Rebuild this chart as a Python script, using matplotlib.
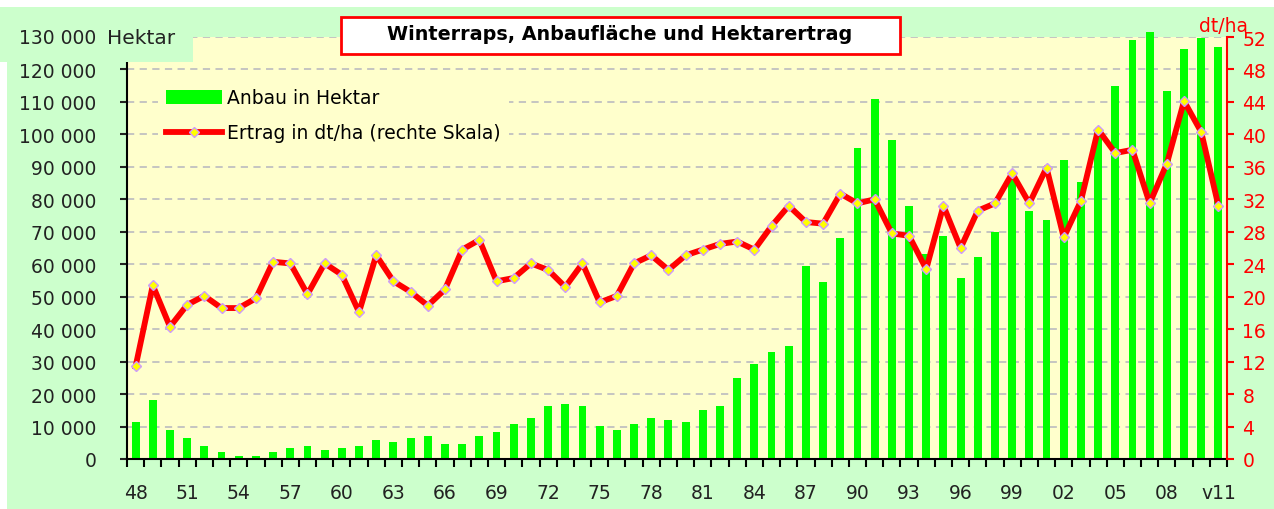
import numpy as np
import matplotlib.pyplot as plt
from matplotlib.patches import Rectangle
from matplotlib.ticker import FuncFormatter

plt.rcParams['font.family'] = ['DejaVu Sans']
plt.rcParams['font.size'] = 13.5

# years 1948..2011
years = list(range(1948, 2012))

# Anbaufläche in Hektar
anbau = [11400, 18300, 9000, 6600, 4100, 2250, 1000, 1000, 2250, 3500,
         4100, 2900, 3500, 4100, 5900, 5300, 6600, 7200, 4700, 4700,
         7200, 8400, 10900, 12700, 16400, 17000, 16400, 10200, 9000, 10900,
         12700, 12100, 11400, 15200, 16400, 25100, 29400, 33100, 34900, 59500,
         54500, 68200, 95900, 110800, 98300, 78000, 63000, 68600, 55800, 62100,
         69800, 88000, 76300, 73600, 92000, 85400, 101000, 115000, 129000, 131500,
         113300, 126300, 129600, 126800]

# Hektarertrag in dt/ha
ertrag = [11.4, 21.4, 16.3, 19.0, 20.1, 18.6, 18.6, 19.8, 24.3, 24.1,
          20.3, 24.1, 22.7, 18.1, 25.1, 21.9, 20.6, 18.9, 20.9, 25.8,
          27.0, 21.9, 22.3, 24.1, 23.3, 21.2, 24.1, 19.3, 20.1, 24.1,
          25.1, 23.3, 25.1, 25.8, 26.5, 26.8, 25.8, 28.7, 31.2, 29.2,
          29.0, 32.7, 31.5, 32.0, 27.8, 27.5, 23.4, 31.2, 26.0, 30.6,
          31.5, 35.2, 31.5, 35.9, 27.3, 31.8, 40.6, 37.7, 38.1, 31.5,
          36.4, 44.1, 40.3, 31.2]

xlabels = ['48', '51', '54', '57', '60', '63', '66', '69', '72', '75', '78',
           '81', '84', '87', '90', '93', '96', '99', '02', '05', '08', 'v11']

W, H = 1274, 510
fig = plt.figure(figsize=(W / 100, H / 100), dpi=100)
fig.patch.set_facecolor('white')

# light green chart area
fig.add_artist(Rectangle((7 / W, 0), 1 - 7 / W, 1 - 8 / H, transform=fig.transFigure,
                         facecolor='#ccffcc', edgecolor='none', zorder=-1))

ax = fig.add_axes([127 / W, 50 / H, 1100 / W, 422 / H])
ax.set_facecolor('#ffffcc')
x = np.arange(len(years))
bars = ax.bar(x, anbau, width=0.46, color='#00ff00', zorder=2, label='Anbau in Hektar',
              clip_on=False)
ax.set_xlim(-0.5, len(years) - 0.5)
ax.set_ylim(0, 130000)
ax.set_yticks(np.arange(0, 130001, 10000))
ax.yaxis.set_major_formatter(FuncFormatter(lambda v, p: f'{int(v):,}'.replace(',', ' ')))
ax.set_axisbelow(True)
ax.yaxis.grid(True, color='#c0c0c0', linestyle=(0, (4, 3)), lw=1.3)
for s in ['top', 'right']:
    ax.spines[s].set_visible(False)
ax.spines['left'].set_linewidth(1.5)
ax.spines['bottom'].set_linewidth(1.5)
ax.tick_params(axis='y', direction='out', length=5, width=1.5, pad=17, colors='#222222')

# labels every third year, last one is the preliminary 2011
major = list(range(0, len(years), 3))
ax.set_xticks(major)
ax.set_xticklabels(xlabels)
ax.set_xticks(np.arange(-0.5, len(years), 1), minor=True)
ax.tick_params(axis='x', which='major', length=0, pad=17, colors='#222222')
ax.tick_params(axis='x', which='minor', direction='out', length=6, width=1.5)

ax2 = ax.twinx()
ln, = ax2.plot(x, ertrag, color='red', lw=4.2, marker='D', ms=5.5,
               mfc='yellow', mec='#cc99ff', mew=1, zorder=3,
               label='Ertrag in dt/ha (rechte Skala)')
ax2.set_ylim(0, 52)
ax2.set_yticks(np.arange(0, 53, 4))
for s in ['top', 'left', 'bottom']:
    ax2.spines[s].set_visible(False)
ax2.spines['right'].set_color('red')
ax2.spines['right'].set_linewidth(1.5)
ax2.tick_params(axis='y', direction='out', length=5, width=1.5, pad=6,
                colors='red')

leg = ax2.legend(handles=[bars, ln], loc='upper left',
                 bbox_to_anchor=(158 / W, 1 - 82 / H), bbox_transform=fig.transFigure,
                 borderaxespad=0, frameon=True, facecolor='#ffffcc', edgecolor='none',
                 framealpha=1, fancybox=False, handlelength=3.0, handletextpad=0.3,
                 labelspacing=0.85, borderpad=0.4)

# box over the top-left corner for the unit label
fig.add_artist(Rectangle((0.0, 1 - 63 / H), 193 / W, 55 / H, transform=fig.transFigure,
                         facecolor='#ccffcc', edgecolor='none', zorder=5))
fig.text(96 / W, 1 - 38 / H, '130 000', ha='right', va='center', color='#222222', zorder=6)
fig.text(107 / W, 1 - 38 / H, 'Hektar', ha='left', va='center', color='#222222', zorder=6,
         fontsize=14.5)
fig.text(1224 / W, 1 - 26 / H, 'dt/ha', ha='center', va='center', color='red', zorder=6)

# title box
fig.add_artist(Rectangle((341 / W, 1 - 55 / H), (900 - 341) / W, 37 / H, transform=fig.transFigure,
                         facecolor='white', edgecolor='red', lw=2, zorder=5))
fig.text(620 / W, 1 - 35 / H, 'Winterraps, Anbaufläche und Hektarertrag', ha='center', va='center',
         fontweight='bold', fontsize=13.8, color='black', zorder=6)

fig.savefig('out.png', dpi=100)
